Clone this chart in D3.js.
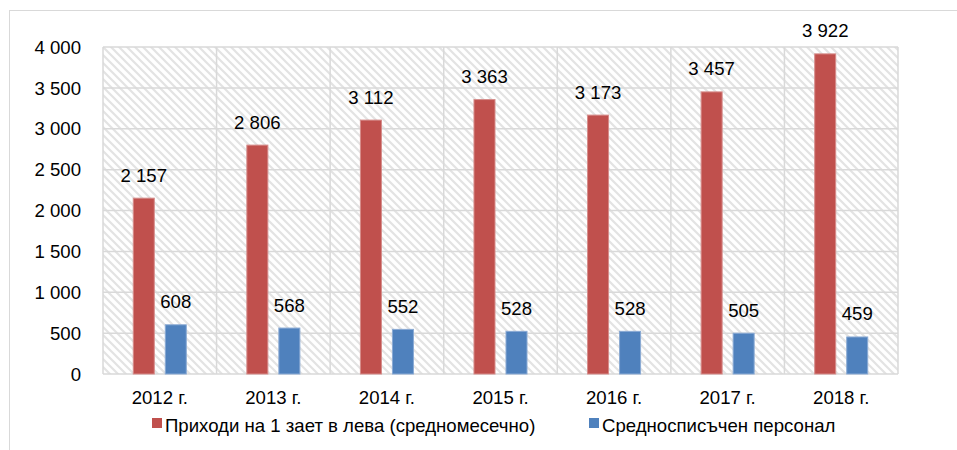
<!DOCTYPE html>
<html><head><meta charset="utf-8">
<script src="https://cdn.jsdelivr.net/npm/d3@7"></script>
<style>html,body{margin:0;padding:0;background:#fff;}svg{display:block;}</style>
</head><body>
<svg id="chart" width="957" height="450"></svg>
<script>
const categories = ["2012 г.","2013 г.","2014 г.","2015 г.","2016 г.","2017 г.","2018 г."];
const seriesNames = ["Приходи на 1 зает в лева (средномесечно)", "Средносписъчен персонал"];
const incomeValues = [2157, 2806, 3112, 3363, 3173, 3457, 3922];
const staffValues = [608, 568, 552, 528, 528, 505, 459];
const yTicks = [0, 500, 1000, 1500, 2000, 2500, 3000, 3500, 4000];
const colors = ["#c0504d", "#4f81bd"];
const edgeColors = ["#d68c8a", "#8aaad4"];

const svg = d3.select("#chart");
const font = "'Liberation Sans', Arial, sans-serif";
const FS = 18.6;
const W = 957, H = 450;
const m = {left:103, right:898, top:47, bottom:374};

// outer border
svg.append("rect").attr("x",9.5).attr("y",10.5).attr("width",W).attr("height",H)
  .attr("fill","#fff").attr("stroke","#d9d9d9").attr("stroke-width",1);

// hatch pattern
const defs = svg.append("defs");
const pat = defs.append("pattern").attr("id","hatch").attr("patternUnits","userSpaceOnUse")
  .attr("width",8).attr("height",8);
pat.append("rect").attr("width",8).attr("height",8).attr("fill","#fff");
pat.append("path").attr("d","M-2,-2 L10,10 M-2,6 L2,10 M6,-2 L10,2")
  .attr("stroke","#e3e3e3").attr("stroke-width",2.2);

const x0 = d3.scaleBand().domain(categories).range([m.left, m.right]).paddingInner(0).paddingOuter(0);
const x1 = d3.scaleBand().domain([0,1]).range([0, x0.bandwidth()]).paddingInner(0.3125).paddingOuter(0.93);
const y = d3.scaleLinear().domain([0, 4000]).range([m.bottom, m.top]);

const loc = d3.formatLocale({decimal:",", thousands:"\u00a0", grouping:[3], currency:["",""]});
const fmt = loc.format(",d");

// plot background
svg.append("rect").attr("x",m.left).attr("y",m.top).attr("width",m.right-m.left).attr("height",m.bottom-m.top)
  .attr("fill","url(#hatch)");

// gridlines
const grid = svg.append("g").attr("stroke","#d9d9d9").attr("stroke-width",1.5);
grid.selectAll("line.h").data(yTicks).join("line").attr("class","h")
  .attr("x1",m.left).attr("x2",m.right).attr("y1",d=>y(d)).attr("y2",d=>y(d));
const vlines = categories.map(c=>x0(c)).concat([x0(categories[categories.length-1])+x0.bandwidth()]);
grid.selectAll("line.v").data(vlines).join("line").attr("class","v")
  .attr("x1",d=>d).attr("x2",d=>d).attr("y1",m.top).attr("y2",m.bottom);

// y axis labels
svg.append("g").selectAll("text").data(yTicks).join("text")
  .attr("x",81).attr("y",d=>y(d)+6.7).attr("text-anchor","end")
  .attr("font-family",font).attr("font-size",FS).attr("fill","#000")
  .text(d=>fmt(d));

// x axis labels
svg.append("g").selectAll("text").data(categories).join("text")
  .attr("x",d=>x0(d)+x0.bandwidth()/2).attr("y",404).attr("text-anchor","middle")
  .attr("font-family",font).attr("font-size",FS).attr("fill","#000")
  .text(d=>d);

// bars
const series = [incomeValues, staffValues];
series.forEach((vals, si) => {
  const g = svg.append("g");
  g.selectAll("rect").data(vals).join("rect")
    .attr("x",(d,i)=>x0(categories[i])+x1(si)+0.5)
    .attr("width",x1.bandwidth()-1)
    .attr("y",d=>y(d)+0.5).attr("height",d=>y(0)-y(d)-0.5)
    .attr("fill",colors[si]).attr("stroke",edgeColors[si]).attr("stroke-width",1);
  g.selectAll("text").data(vals).join("text")
    .attr("x",(d,i)=>x0(categories[i])+x1(si)+x1.bandwidth()/2)
    .attr("y",d=>y(d)-16).attr("text-anchor","middle")
    .attr("font-family",font).attr("font-size",FS).attr("fill","#000")
    .text(d=>fmt(d));
});

// legend
const legendX = [152, 589];
const lg = svg.append("g");
seriesNames.forEach((name, i) => {
  lg.append("rect").attr("x",legendX[i]).attr("y",418).attr("width",10).attr("height",10).attr("fill",colors[i]);
  lg.append("text").attr("x",legendX[i]+13).attr("y",431.5)
    .attr("font-family",font).attr("font-size",FS).attr("fill","#000").text(name);
});
</script>
</body></html>
